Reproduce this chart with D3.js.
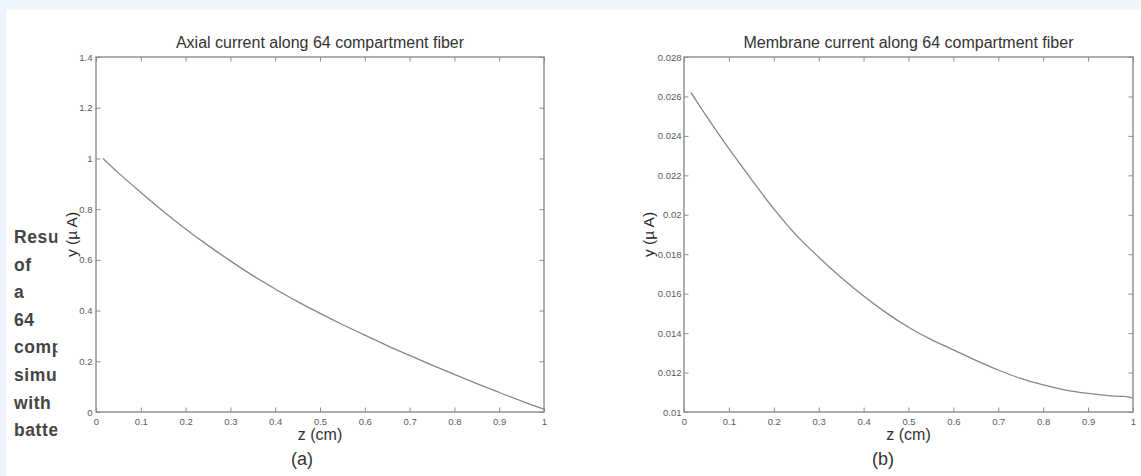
<!DOCTYPE html>
<html><head><meta charset="utf-8">
<script src="https://cdn.jsdelivr.net/npm/d3@7"></script>
<style>
html,body{margin:0;padding:0;background:#eef5fc;}
svg{display:block}
</style></head><body>
<svg id="c" width="1141" height="476"></svg>
<script>
// ---- data ----
const zAxial = [0.0156,0.05,0.1,0.15,0.2,0.25,0.3,0.35,0.4,0.45,0.5,0.55,0.6,0.65,0.7,0.75,0.8,0.85,0.9,0.95,1.0];
const iAxial = [1.00,0.943,0.866,0.792,0.722,0.657,0.596,0.538,0.485,0.435,0.389,0.345,0.303,0.262,0.223,0.185,0.148,0.112,0.077,0.043,0.011];
const zMembrane = [0.0156,0.05,0.1,0.15,0.2,0.25,0.3,0.35,0.4,0.45,0.5,0.55,0.6,0.65,0.7,0.75,0.8,0.85,0.9,0.95,0.98,1.0];
const iMembrane = [0.0262,0.0250,0.02335,0.02180,0.02030,0.01897,0.01785,0.01682,0.01588,0.01504,0.01430,0.01368,0.01315,0.01262,0.01213,0.01170,0.01137,0.01111,0.01094,0.01082,0.01079,0.0107];
const xTickValues = [0,0.1,0.2,0.3,0.4,0.5,0.6,0.7,0.8,0.9,1];
const yTicksAxial = [0,0.2,0.4,0.6,0.8,1,1.2,1.4];
const yTicksMembrane = [0.01,0.012,0.014,0.016,0.018,0.02,0.022,0.024,0.026,0.028];
const titleAxial = "Axial current along 64 compartment fiber";
const titleMembrane = "Membrane current along 64 compartment fiber";
const xLabel = "z (cm)";
const yLabel = "y (\u00b5 A)";
const panelTags = ["(a)","(b)"];
const captionWords = ["Results","of","a","64","compartment","simulation","with","battery"];

// ---- drawing ----
const FONT = "'Liberation Sans', Arial, Helvetica, sans-serif";
const svg = d3.select("#c");
svg.append("rect").attr("x",6).attr("y",9.5).attr("width",1135).attr("height",466.5).attr("fill","#ffffff");

// clipped narrow caption column
svg.append("defs").append("clipPath").attr("id","capclip")
  .append("rect").attr("x",0).attr("y",0).attr("width",57.5).attr("height",476);
svg.append("g").attr("clip-path","url(#capclip)")
  .selectAll("text").data(captionWords).join("text")
  .attr("x",14).attr("y",(d,i)=>243+i*27.6)
  .attr("font-family",FONT).attr("font-weight","bold").attr("font-size",17.5)
  .attr("letter-spacing",0.6)
  .attr("fill","#444").text(d=>d);

const panels = [
  {x0:96,x1:544,y0:57,y1:412,z:zAxial,v:iAxial,yTicks:yTicksAxial,yDom:[0,1.4],title:titleAxial,ylabX:71,tag:panelTags[0],tagX:302,ypad:3.5},
  {x0:684,x1:1133,y0:57,y1:412,z:zMembrane,v:iMembrane,yTicks:yTicksMembrane,yDom:[0.01,0.028],title:titleMembrane,ylabX:648,tag:panelTags[1],tagX:883,ypad:2.5}
];
const fmt = d3.format("~g");
const AX = "#8c8c8c";

panels.forEach(p=>{
  const x = d3.scaleLinear().domain([0,1]).range([p.x0,p.x1]);
  const y = d3.scaleLinear().domain(p.yDom).range([p.y1,p.y0]);
  const g = svg.append("g");

  const style = sel=>{
    sel.select(".domain").remove();
    sel.selectAll(".tick line").attr("stroke",AX).attr("stroke-width",1);
    sel.selectAll(".tick text").attr("fill","#5a5a5a").attr("font-family",FONT).attr("font-size",9.5);
  };
  g.append("g").attr("transform",`translate(0,${p.y1})`)
    .call(d3.axisBottom(x).tickValues(xTickValues).tickFormat(fmt).tickSizeInner(-4.5).tickSizeOuter(0).tickPadding(6)).call(style);
  g.append("g").attr("transform",`translate(0,${p.y0})`)
    .call(d3.axisTop(x).tickValues(xTickValues).tickFormat("").tickSizeInner(-4.5).tickSizeOuter(0)).call(style);
  g.append("g").attr("transform",`translate(${p.x0},0)`)
    .call(d3.axisLeft(y).tickValues(p.yTicks).tickFormat(fmt).tickSizeInner(-4.5).tickSizeOuter(0).tickPadding(p.ypad)).call(style);
  g.append("g").attr("transform",`translate(${p.x1},0)`)
    .call(d3.axisRight(y).tickValues(p.yTicks).tickFormat("").tickSizeInner(-4.5).tickSizeOuter(0)).call(style);

  g.append("rect").attr("x",p.x0).attr("y",p.y0).attr("width",p.x1-p.x0).attr("height",p.y1-p.y0)
    .attr("fill","none").attr("stroke",AX).attr("stroke-width",1.4);

  const line = d3.line().x((d,i)=>x(p.z[i])).y(d=>y(d)).curve(d3.curveMonotoneX);
  g.append("path").datum(p.v).attr("d",line).attr("fill","none").attr("stroke","#868686").attr("stroke-width",1.3);

  const cx = (p.x0+p.x1)/2;
  g.append("text").attr("x",cx).attr("y",48).attr("text-anchor","middle")
    .attr("font-family",FONT).attr("font-size",16).attr("fill","#333").text(p.title);
  g.append("text").attr("x",cx).attr("y",440).attr("text-anchor","middle")
    .attr("font-family",FONT).attr("font-size",16).attr("fill","#333").text(xLabel);
  g.append("text").attr("transform",`translate(${p.ylabX},${(p.y0+p.y1)/2}) rotate(-90)`)
    .attr("text-anchor","middle").attr("dominant-baseline","central")
    .attr("font-family",FONT).attr("font-size",15.5).attr("fill","#2a2a2a").text(yLabel);
  g.append("text").attr("x",p.tagX).attr("y",464.5).attr("text-anchor","middle")
    .attr("font-family",FONT).attr("font-size",18).attr("fill","#333").text(p.tag);
});
</script>
</body></html>
